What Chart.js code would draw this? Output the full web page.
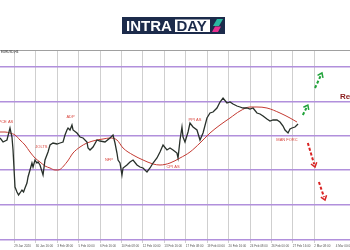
<!DOCTYPE html>
<html>
<head>
<meta charset="utf-8">
<script src="https://cdn.jsdelivr.net/npm/chart.js@4.4.1/dist/chart.umd.min.js"></script>
<style>
  html, body { margin: 0; padding: 0; background: #fff; }
  #wrap { width: 350px; height: 250px; position: relative; }
</style>
</head>
<body>
<div id="wrap"><canvas id="chart"></canvas></div>
<script>
// H4 bars on x, EURUSD quote on y
var priceBars = [-8, -6.3, -4.1, -2.4, -1.3, -0.7, 0.4, 1.5, 2.4, 3.2, 4.3, 5.2, 6.0, 7.1, 7.7, 8.8, 9.9, 10.5, 11.6, 12.7,
  13.3, 14.4, 16.1, 17.2, 18.9, 20.0, 21.7, 23.9, 25.6, 27.3, 28.4, 29.5, 30.1, 31.2, 32.3, 32.9, 35.1, 36.8, 38.5, 40.7,
  41.3, 42.4, 44.1, 46.3, 48.0, 50.8, 53.6, 55.3, 56.4, 57.5, 58.1, 59.2, 60.3, 60.9, 63.1, 64.8, 66.5, 68.7, 70.4, 72.1,
  74.3, 76.0, 77.7, 79.9, 81.6, 83.3, 85.5, 87.2, 88.9, 91.1, 91.7, 92.8, 93.9, 94.5, 95.6, 97.3, 98.4, 100.1, 102.3, 104.0,
  105.7, 107.9, 109.6, 111.3, 113.5, 115.2, 116.9, 119.1, 120.8, 122.5, 124.7, 126.4, 128.1, 130.3, 132.0, 133.7, 135.9, 137.6, 139.3, 141.5,
  143.2, 144.9, 147.1, 148.8, 150.5, 151.6, 153.3, 154.4, 155.5, 157.2, 158.9];
var priceVals = [1.0902, 1.0898, 1.0900, 1.0912, 1.0903, 1.0890, 1.0853, 1.0848, 1.0845, 1.0847, 1.0850, 1.0848, 1.0852, 1.0857, 1.0863, 1.0870, 1.0877, 1.0873, 1.0880, 1.0877,
  1.0878, 1.0875, 1.0865, 1.0880, 1.0888, 1.0895, 1.0897, 1.0896, 1.0897, 1.0898, 1.0905, 1.0910, 1.0912, 1.0910, 1.0915, 1.0910, 1.0907, 1.0903, 1.0902, 1.0898,
  1.0892, 1.0890, 1.0893, 1.0900, 1.0899, 1.0898, 1.0902, 1.0905, 1.0897, 1.0887, 1.0880, 1.0877, 1.0865, 1.0872, 1.0875, 1.0878, 1.0880, 1.0875, 1.0873, 1.0872,
  1.0868, 1.0872, 1.0877, 1.0882, 1.0888, 1.0895, 1.0890, 1.0892, 1.0890, 1.0887, 1.0882, 1.0900, 1.0913, 1.0903, 1.0898, 1.0908, 1.0917, 1.0913, 1.0910, 1.0900,
  1.0907, 1.0922, 1.0927, 1.0928, 1.0932, 1.0938, 1.0942, 1.0937, 1.0938, 1.0936, 1.0934, 1.0933, 1.0932, 1.0932, 1.0931, 1.0932, 1.0927, 1.0926, 1.0924, 1.0921,
  1.0919, 1.0920, 1.0920, 1.0918, 1.0914, 1.0910, 1.0907, 1.0911, 1.0912, 1.0913, 1.0916];

// moving average
var maBars = [-8, -5.2, -2.4, 0.4, 3.2, 6.0, 8.8, 11.6, 14.4, 17.2, 20.0, 22.8, 24.5, 29.5, 32.9, 36.8, 40.7, 46.3, 49.7, 53.6,
  57.5, 60.9, 66.5, 72.1, 77.7, 81.6, 87.2, 92.8, 98.4, 104.0, 109.6, 115.2, 120.8, 126.4, 132.0, 135.9, 141.5, 148.8, 154.4, 158.3];
var maVals = [1.0908, 1.0908, 1.0907, 1.0905, 1.0900, 1.0895, 1.0888, 1.0882, 1.0878, 1.0874, 1.0872, 1.0870, 1.0870, 1.0878, 1.0887, 1.0893, 1.0897, 1.0900, 1.0901, 1.0902,
  1.0900, 1.0892, 1.0885, 1.0880, 1.0876, 1.0875, 1.0877, 1.0882, 1.0888, 1.0897, 1.0907, 1.0915, 1.0922, 1.0929, 1.0933, 1.0933, 1.0932, 1.0927, 1.0922, 1.0918];

// horizontal support / resistance levels
var levels = [1.0800, 1.0835, 1.0870, 1.0904, 1.0938, 1.0973];

var tickLabels = ["29 Jan 2020", "30 Jan 16:00", "3 Feb 08:00", "5 Feb 00:00", "6 Feb 16:00", "10 Feb 08:00", "12 Feb 00:00", "13 Feb 16:00",
  "17 Feb 08:00", "19 Feb 00:00", "20 Feb 16:00", "24 Feb 08:00", "26 Feb 00:00", "27 Feb 16:00", "2 Mar 08:00", "4 Mar 00:00"];

var eventNames = ["PCE AS", "JOLTS", "ADP", "NFP", "CPI AS", "PPI AS", "MAN FORC"];
var eventBars = [-4.7, 15.2, 31.5, 53.0, 88.9, 101.2, 152.7];
var eventVals = [1.0918, 1.0893, 1.0923, 1.0880, 1.0873, 1.0920, 1.0900];

// [fromBar, fromPrice, toBar, toPrice]
var upArrows = [[161.6, 1.0925, 164.4, 1.0935], [168.4, 1.0952, 172.3, 1.0967]];
var downArrows = [[164.4, 1.0897, 168.4, 1.0873], [170.6, 1.0858, 174.0, 1.0840]];

function toPoints(xs, ys) {
  return xs.map(function (x, i) { return { x: x, y: ys[i] }; });
}

function drawArrow(ctx, x1, y1, x2, y2, color) {
  var ang = Math.atan2(y2 - y1, x2 - x1);
  var c = Math.cos(ang), s = Math.sin(ang);
  ctx.strokeStyle = color;
  ctx.fillStyle = color;
  ctx.lineWidth = 2;
  ctx.setLineDash([3, 2]);
  ctx.beginPath();
  ctx.moveTo(x1, y1);
  ctx.lineTo(x2 - 3 * c, y2 - 3 * s);
  ctx.stroke();
  ctx.setLineDash([]);
  ctx.lineWidth = 1.5;
  ctx.beginPath();
  ctx.moveTo(x2 - 4 * c + 3 * s, y2 - 4 * s - 3 * c);
  ctx.lineTo(x2, y2);
  ctx.lineTo(x2 - 4 * c - 3 * s, y2 - 4 * s + 3 * c);
  ctx.stroke();
}

var overlay = {
  id: 'overlay',
  beforeDatasetsDraw: function (chart) {
    var ctx = chart.ctx, a = chart.chartArea;
    ctx.save();
    ctx.strokeStyle = '#a0a0a0';
    ctx.lineWidth = 1;
    ctx.beginPath();
    ctx.moveTo(a.left, a.top + 0.5);
    ctx.lineTo(a.right, a.top + 0.5);
    ctx.stroke();
    ctx.restore();
  },
  afterDatasetsDraw: function (chart) {
    var ctx = chart.ctx, xs = chart.scales.x, ys = chart.scales.y;
    ctx.save();

    // event labels
    ctx.font = '4px "Liberation Sans", Arial, sans-serif';
    ctx.fillStyle = '#d9443c';
    ctx.textAlign = 'center';
    ctx.textBaseline = 'middle';
    eventNames.forEach(function (n, i) {
      ctx.fillText(n, xs.getPixelForValue(eventBars[i]), ys.getPixelForValue(eventVals[i]));
    });

    // resistance label
    ctx.font = 'bold 8px "Liberation Sans", Arial, sans-serif';
    ctx.fillStyle = '#8b1c1c';
    ctx.textAlign = 'left';
    ctx.fillText('Resistance', xs.getPixelForValue(182.4), ys.getPixelForValue(1.0943));

    // symbol caption
    ctx.font = '3px "Liberation Sans", Arial, sans-serif';
    ctx.fillStyle = '#222';
    ctx.fillText('EURUSD,H4', 1, chart.chartArea.top + 2.5);

    upArrows.forEach(function (r) {
      drawArrow(ctx, xs.getPixelForValue(r[0]), ys.getPixelForValue(r[1]),
        xs.getPixelForValue(r[2]), ys.getPixelForValue(r[3]), '#21a33a');
    });
    downArrows.forEach(function (r) {
      drawArrow(ctx, xs.getPixelForValue(r[0]), ys.getPixelForValue(r[1]),
        xs.getPixelForValue(r[2]), ys.getPixelForValue(r[3]), '#d92323');
    });
    ctx.restore();
  },
  afterDraw: function (chart) {
    // INTRADAY logo
    var ctx = chart.ctx;
    ctx.save();
    ctx.fillStyle = '#1c2b4b';
    ctx.fillRect(122, 17, 103, 17);
    ctx.fillStyle = '#ffffff';
    ctx.fillRect(175, 19.5, 35, 12.5);
    ctx.font = 'bold 15px "Liberation Sans", Arial, sans-serif';
    ctx.textBaseline = 'alphabetic';
    ctx.textAlign = 'left';
    ctx.fillStyle = '#ffffff';
    ctx.fillText('INTRA', 126, 31);
    ctx.fillStyle = '#1c2b4b';
    ctx.fillText('DAY', 176.5, 31);
    // icon
    ctx.fillStyle = '#2bb8a0';
    ctx.beginPath();
    ctx.moveTo(217, 19); ctx.lineTo(223, 19); ctx.lineTo(219, 26); ctx.lineTo(213, 26);
    ctx.closePath(); ctx.fill();
    ctx.fillStyle = '#e8308f';
    ctx.beginPath();
    ctx.moveTo(215, 26.5); ctx.lineTo(221, 26.5); ctx.lineTo(218, 32); ctx.lineTo(212, 32);
    ctx.closePath(); ctx.fill();
    ctx.restore();
  }
};

new Chart(document.getElementById('chart').getContext('2d'), {
  type: 'line',
  data: {
    datasets: [
      {
        data: toPoints(priceBars, priceVals),
        borderColor: '#28302a',
        borderWidth: 1.3,
        pointRadius: 0,
        tension: 0
      },
      {
        data: toPoints(maBars, maVals),
        borderColor: '#c43a32',
        borderWidth: 1,
        pointRadius: 0,
        cubicInterpolationMode: 'monotone'
      }
    ]
  },
  options: {
    responsive: true,
    maintainAspectRatio: false,
    animation: false,
    layout: { padding: { top: 50, left: 0, right: 0, bottom: 0 } },
    plugins: { legend: { display: false }, tooltip: { enabled: false } },
    scales: {
      x: {
        type: 'linear',
        min: -8,
        max: 188,
        border: { display: false },
        grid: {
          color: function (c) { return c.tick && c.tick.value <= 168 ? '#cfcfcf' : 'rgba(0,0,0,0)'; },
          lineWidth: 1,
          tickLength: 2
        },
        ticks: {
          stepSize: 12,
          includeBounds: false,
          autoSkip: false,
          maxRotation: 0,
          align: 'start',
          padding: 1,
          color: '#555',
          font: { size: 3, family: '"Liberation Sans", Arial, sans-serif' },
          callback: function (v) { return tickLabels[Math.round(v / 12)] || ''; }
        },
        afterFit: function (s) { s.height = 9; s.paddingLeft = 0; s.paddingRight = 0; }
      },
      y: {
        min: 1.0799,
        max: 1.0990,
        border: { display: false },
        grid: { color: '#b190dc', lineWidth: 1.5, drawTicks: false },
        ticks: { display: false },
        afterBuildTicks: function (s) { s.ticks = levels.map(function (v) { return { value: v }; }); },
        afterFit: function (s) { s.width = 0; }
      }
    }
  },
  plugins: [overlay]
});
</script>
</body>
</html>
